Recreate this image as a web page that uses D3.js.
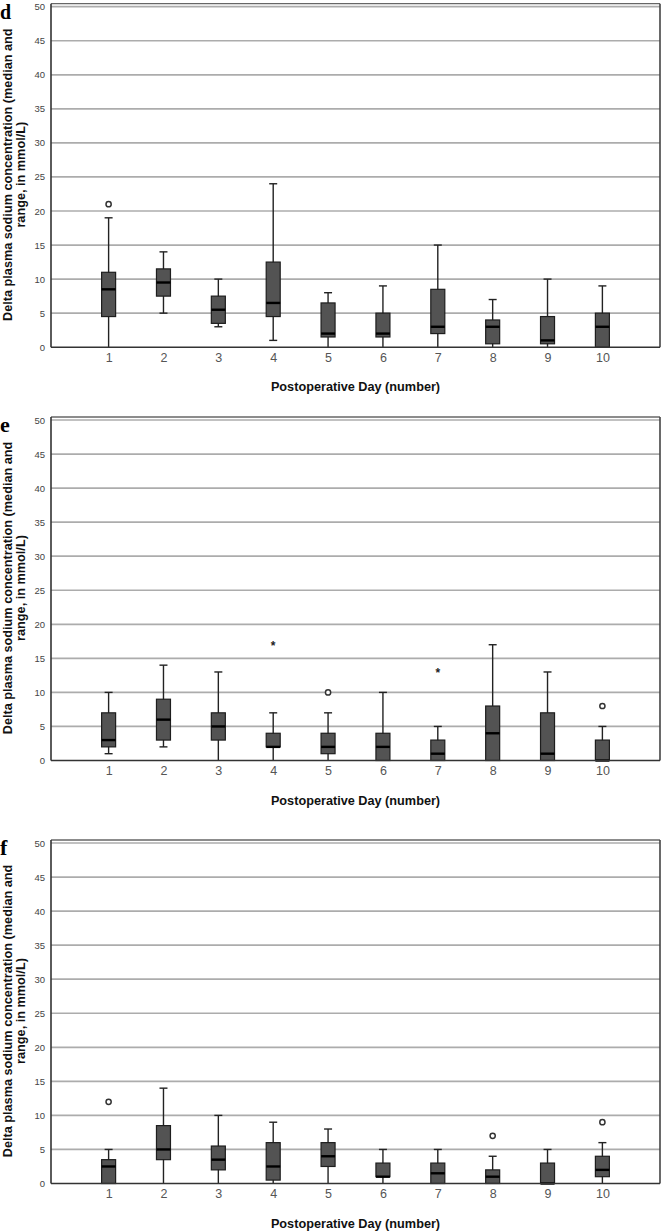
<!DOCTYPE html>
<html>
<head>
<meta charset="utf-8">
<script src="https://cdn.jsdelivr.net/npm/d3@7"></script>
<style>
  body { margin: 0; background: #fff; }
  svg { display: block; }
</style>
</head>
<body>
<svg id="chart"></svg>
<script>
var width = 662,
    height = 1231;

// postoperative days and y ticks
var days = [1, 2, 3, 4, 5, 6, 7, 8, 9, 10];
var yTicks = [0, 5, 10, 15, 20, 25, 30, 35, 40, 45, 50];

// panel d
var dMin = [0, 5, 3, 1, 0, 0, 0, 0, 0, 0];
var dQ1  = [4.5, 7.5, 3.5, 4.5, 1.5, 1.5, 2, 0.5, 0.5, 0];
var dMed = [8.5, 9.5, 5.5, 6.5, 2, 2, 3, 3, 1, 3];
var dQ3  = [11, 11.5, 7.5, 12.5, 6.5, 5, 8.5, 4, 4.5, 5];
var dMax = [19, 14, 10, 24, 8, 9, 15, 7, 10, 9];
var dOut = [{day: 1, value: 21, kind: "o"}];

// panel e
var eMin = [1, 2, 0, 0, 0, 0, 0, 0, 0, 0];
var eQ1  = [2, 3, 3, 2, 1, 0, 0, 0, 0, 0];
var eMed = [3, 6, 5, 2, 2, 2, 1, 4, 1, 0];
var eQ3  = [7, 9, 7, 4, 4, 4, 3, 8, 7, 3];
var eMax = [10, 14, 13, 7, 7, 10, 5, 17, 13, 5];
var eOut = [{day: 4, value: 17, kind: "*"}, {day: 5, value: 10, kind: "o"},
            {day: 7, value: 13, kind: "*"}, {day: 10, value: 8, kind: "o"}];

// panel f
var fMin = [0, 0, 0, 0, 0, 0, 0, 0, 0, 0];
var fQ1  = [0, 3.5, 2, 0.5, 2.5, 1, 0, 0, 0, 1];
var fMed = [2.5, 5, 3.5, 2.5, 4, 1, 1.5, 1, 0, 2];
var fQ3  = [3.5, 8.5, 5.5, 6, 6, 3, 3, 2, 3, 4];
var fMax = [5, 14, 10, 9, 8, 5, 5, 4, 5, 6];
var fOut = [{day: 1, value: 12, kind: "o"}, {day: 8, value: 7, kind: "o"},
            {day: 10, value: 9, kind: "o"}];

var panels = [
  {letter: "d", top: 6.7, mins: dMin, q1: dQ1, med: dMed, q3: dQ3, maxs: dMax, out: dOut},
  {letter: "e", top: 420, mins: eMin, q1: eQ1, med: eMed, q3: eQ3, maxs: eMax, out: eOut},
  {letter: "f", top: 843, mins: fMin, q1: fQ1, med: fMed, q3: fQ3, maxs: fMax, out: fOut}
];

var left = 51, right = 660, plotH = 340.5;
var boxW = 14, capW = 8;

var svg = d3.select("#chart")
            .attr("width", width)
            .attr("height", height);

var x = d3.scalePoint()
          .domain(days)
          .range([left, right])
          .padding(1.05);

panels.forEach(function(p) {
  var y = d3.scaleLinear()
            .domain([0, 50])
            .range([p.top + plotH, p.top]);

  var g = svg.append("g");

  // gridlines
  g.selectAll(".grid")
   .data(yTicks.filter(function(t) { return t > 0; }))
   .join("line")
   .attr("x1", left).attr("x2", right)
   .attr("y1", function(d) { return y(d); })
   .attr("y2", function(d) { return y(d); })
   .attr("stroke", "#acacac")
   .attr("stroke-width", 1.7);

  // frame top + right
  g.append("line")
   .attr("x1", left).attr("x2", right)
   .attr("y1", y(50) - 3).attr("y2", y(50) - 3)
   .attr("stroke", "#666").attr("stroke-width", 1.3);
  g.append("line")
   .attr("x1", right).attr("x2", right)
   .attr("y1", y(50) - 3).attr("y2", y(0))
   .attr("stroke", "#444").attr("stroke-width", 1.6);

  // axes (labels only)
  var yAxis = g.append("g")
               .attr("transform", "translate(" + (left - 6) + ",0)")
               .call(d3.axisLeft(y).tickValues(yTicks).tickSize(0).tickPadding(0));
  yAxis.select(".domain").remove();
  yAxis.selectAll("text")
       .attr("font-family", "Liberation Sans, Arial, sans-serif")
       .attr("font-size", "9.5px")
       .attr("fill", "#444");

  var xAxis = g.append("g")
               .attr("transform", "translate(0," + (y(0) + 6) + ")")
               .call(d3.axisBottom(x).tickSize(0).tickPadding(0));
  xAxis.select(".domain").remove();
  xAxis.selectAll("text")
       .attr("font-family", "Liberation Sans, Arial, sans-serif")
       .attr("font-size", "12.5px")
       .attr("fill", "#555");

  // boxes
  var boxes = g.selectAll(".box")
               .data(days.map(function(d, i) {
                 return {day: d, min: p.mins[i], q1: p.q1[i], med: p.med[i], q3: p.q3[i], max: p.maxs[i]};
               }))
               .join("g")
               .attr("class", "box");

  boxes.append("line")
       .attr("x1", function(d) { return x(d.day); })
       .attr("x2", function(d) { return x(d.day); })
       .attr("y1", function(d) { return y(d.max); })
       .attr("y2", function(d) { return y(d.min); })
       .attr("stroke", "#222").attr("stroke-width", 1.4);

  boxes.filter(function(d) { return d.max > d.q3; })
       .append("line")
       .attr("x1", function(d) { return x(d.day) - capW / 2; })
       .attr("x2", function(d) { return x(d.day) + capW / 2; })
       .attr("y1", function(d) { return y(d.max); })
       .attr("y2", function(d) { return y(d.max); })
       .attr("stroke", "#222").attr("stroke-width", 1.4);

  boxes.filter(function(d) { return d.min < d.q1 && d.min > 0; })
       .append("line")
       .attr("x1", function(d) { return x(d.day) - capW / 2; })
       .attr("x2", function(d) { return x(d.day) + capW / 2; })
       .attr("y1", function(d) { return y(d.min); })
       .attr("y2", function(d) { return y(d.min); })
       .attr("stroke", "#222").attr("stroke-width", 1.4);

  boxes.append("rect")
       .attr("x", function(d) { return x(d.day) - boxW / 2; })
       .attr("y", function(d) { return y(d.q3); })
       .attr("width", boxW)
       .attr("height", function(d) { return y(d.q1) - y(d.q3); })
       .attr("fill", "#535353")
       .attr("stroke", "#1e1e1e")
       .attr("stroke-width", 1.2);

  boxes.append("line")
       .attr("x1", function(d) { return x(d.day) - boxW / 2; })
       .attr("x2", function(d) { return x(d.day) + boxW / 2; })
       .attr("y1", function(d) { return y(d.med); })
       .attr("y2", function(d) { return y(d.med); })
       .attr("stroke", "#000").attr("stroke-width", 2.4);

  // outliers
  g.selectAll(".circ")
   .data(p.out.filter(function(d) { return d.kind === "o"; }))
   .join("circle")
   .attr("cx", function(d) { return x(d.day); })
   .attr("cy", function(d) { return y(d.value); })
   .attr("r", 2.6)
   .attr("fill", "#fff")
   .attr("stroke", "#333")
   .attr("stroke-width", 1.5);

  g.selectAll(".star")
   .data(p.out.filter(function(d) { return d.kind === "*"; }))
   .join("text")
   .attr("x", function(d) { return x(d.day); })
   .attr("y", function(d) { return y(d.value) + 5; })
   .attr("text-anchor", "middle")
   .attr("font-family", "Liberation Sans, Arial, sans-serif")
   .attr("font-size", "12px")
   .attr("font-weight", "bold")
   .attr("fill", "#222")
   .text("*");

  // left + bottom axis lines
  g.append("line")
   .attr("x1", left).attr("x2", left)
   .attr("y1", y(50) - 3).attr("y2", y(0))
   .attr("stroke", "#333").attr("stroke-width", 1.6);
  g.append("line")
   .attr("x1", left).attr("x2", right)
   .attr("y1", y(0)).attr("y2", y(0))
   .attr("stroke", "#333").attr("stroke-width", 1.6);

  // axis titles
  g.append("text")
   .attr("x", (left + right) / 2)
   .attr("y", y(0) + 44)
   .attr("text-anchor", "middle")
   .attr("font-family", "Liberation Sans, Arial, sans-serif")
   .attr("font-size", "12.7px")
   .attr("font-weight", "bold")
   .attr("fill", "#111")
   .text("Postoperative Day (number)");

  var ty = g.append("text")
            .attr("transform", "translate(0," + (p.top + 168) + ") rotate(-90)")
            .attr("text-anchor", "middle")
            .attr("font-family", "Liberation Sans, Arial, sans-serif")
            .attr("font-size", "12.7px")
            .attr("font-weight", "bold")
            .attr("fill", "#111");
  ty.append("tspan").attr("x", 0).attr("y", 12).text("Delta plasma sodium concentration (median and");
  ty.append("tspan").attr("x", 0).attr("y", 25).text("range, in mmol/L)");

  // panel letter
  g.append("text")
   .attr("x", 0)
   .attr("y", p.top + 12)
   .attr("font-family", "Liberation Serif, Times New Roman, serif")
   .attr("font-size", p.letter === "d" ? "20px" : "22px")
   .attr("font-weight", "bold")
   .attr("fill", "#000")
   .text(p.letter);
});
</script>
</body>
</html>
